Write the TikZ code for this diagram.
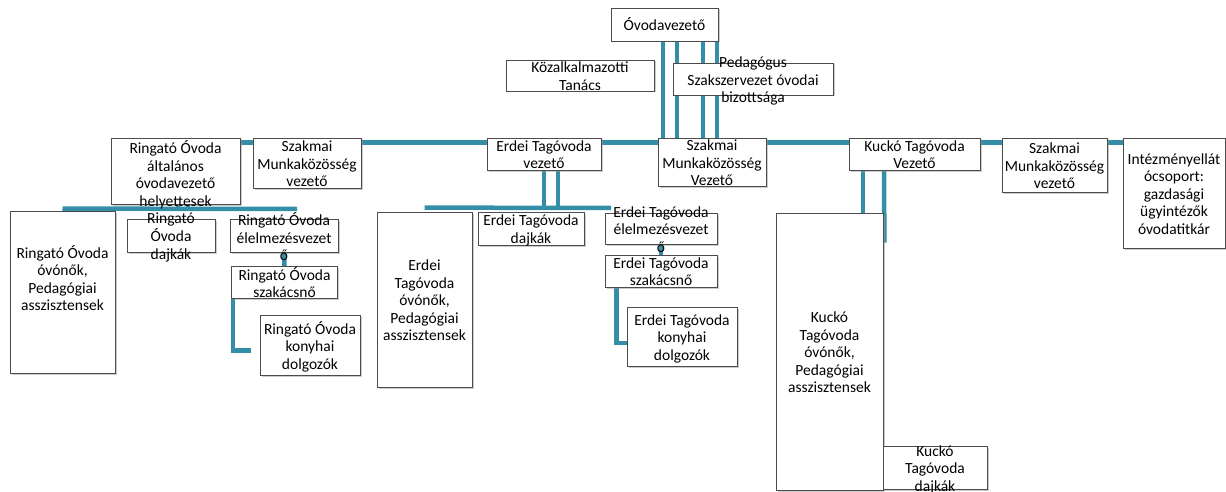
\documentclass[tikz,border=0pt]{standalone}
\usepackage{fontspec}
\setmainfont{Carlito}
\usepackage{tikz}
\usetikzlibrary{shadows,backgrounds}

\definecolor{orgteal}{RGB}{52,142,167}
\newcommand{\orgfont}{\fontsize{15.5}{17.5}\selectfont}
% lines of a box, smashed so the box keeps its own size
\newcommand{\lns}[2][-6.2pt]{\smash{\raisebox{#1}{\begin{tabular}{@{}c@{}}#2\end{tabular}}}}

\tikzset{
  box/.style={draw=black!70, line width=0.8pt, fill=white, inner sep=0pt,
    font=\orgfont, drop shadow={shadow xshift=1.5pt, shadow yshift=-1.5pt, fill=black!40, opacity=0.5}},
  link/.style={draw=orgteal, line width=4.5pt}
}

\begin{document}
\begin{tikzpicture}[x=1pt,y=-1pt]
\useasboundingbox (0,0) rectangle (1226,492);

% top
\node[box, minimum width=107pt, minimum height=33pt] (ovodavez) at (664.5,24.5) {\lns{Óvodavezető}};
\node[box, minimum width=148pt, minimum height=31pt] (kozalk) at (580,75.5) {\lns{Közalkalmazotti\\Tanács}};
\node[box, minimum width=160pt, minimum height=32pt] (pedszak) at (753,79) {\lns{Pedagógus\\Szakszervezet óvodai\\bizottsága}};

% second row
\node[box, minimum width=129pt, minimum height=66pt] (ringhely) at (175.5,171) {\lns[-8.7pt]{Ringató Óvoda\\általános\\óvodavezető\\helyettesek}};
\node[box, minimum width=108pt, minimum height=50pt] (szmkA) at (307,163) {\lns{Szakmai\\Munkaközösség\\vezető}};
\node[box, minimum width=114pt, minimum height=32pt] (erdeivez) at (544,154) {\lns{Erdei Tagóvoda\\vezető}};
\node[box, minimum width=108pt, minimum height=48pt] (szmkB) at (712,162) {\lns{Szakmai\\Munkaközösség\\Vezető}};
\node[box, minimum width=131pt, minimum height=32pt] (kuckovez) at (914.5,154) {\lns{Kuckó Tagóvoda\\Vezető}};
\node[box, minimum width=105pt, minimum height=54pt] (szmkC) at (1054.5,165) {\lns{Szakmai\\Munkaközösség\\vezető}};
\node[box, minimum width=102pt, minimum height=110pt] (intezmeny) at (1174,193) {\lns{Intézményellát\\ócsoport:\\gazdasági\\ügyintézők\\óvodatitkár}};

% Ringato
\node[box, minimum width=105pt, minimum height=162pt] (ringovon) at (62.5,292) {\lns[7.8pt]{Ringató Óvoda\\óvónők,\\Pedagógiai\\asszisztensek}};
\node[box, minimum width=88pt, minimum height=33pt] (ringdajka) at (171,235.5) {\lns{Ringató\\Óvoda\\dajkák}};
\node[box, minimum width=108pt, minimum height=33pt] (ringelelm) at (284,235.5) {\lns[-7.5pt]{Ringató Óvoda\\élelmezésvezet\\ő}};
\node[box, minimum width=106pt, minimum height=32pt] (ringszak) at (284.5,282.5) {\lns{Ringató Óvoda\\szakácsnő}};
\node[box, minimum width=100pt, minimum height=60pt] (ringkony) at (310,345.5) {\lns{Ringató Óvoda\\konyhai\\dolgozók}};

% Erdei
\node[box, minimum width=95pt, minimum height=175pt] (erdeiovon) at (424.5,299.5) {\lns{Erdei\\Tagóvoda\\óvónők,\\Pedagógiai\\asszisztensek}};
\node[box, minimum width=106pt, minimum height=33pt] (erdeidajka) at (531,228.5) {\lns{Erdei Tagóvoda\\dajkák}};
\node[box, minimum width=112pt, minimum height=31pt] (erdeielelm) at (661,228.5) {\lns{Erdei Tagóvoda\\élelmezésvezet\\ő}};
\node[box, minimum width=112pt, minimum height=32pt] (erdeiszak) at (661,271) {\lns{Erdei Tagóvoda\\szakácsnő}};
\node[box, minimum width=110pt, minimum height=59pt] (erdeikony) at (682,336.5) {\lns{Erdei Tagóvoda\\konyhai\\dolgozók}};

% Kucko
\node[box, minimum width=107pt, minimum height=277pt] (kuckoovon) at (829.5,351.5) {\lns{Kuckó\\Tagóvoda\\óvónők,\\Pedagógiai\\asszisztensek}};
\node[box, minimum width=104pt, minimum height=43pt] (kuckodajka) at (935,467.5) {\lns{Kuckó\\Tagóvoda\\dajkák}};

\coordinate (ringbus) at (297,209);
\coordinate (erdeibus) at (611,208);

\begin{scope}[on background layer]
\draw[link] ([yshift=-5pt]ringhely.north east) -- ([yshift=-5pt]intezmeny.north east);
\foreach \dx in {-1.5,12.5,38.5,52.5}
  \draw[link] ([xshift=\dx pt]ovodavez.south) -- ([xshift=\dx pt]ovodavez.south |- szmkB.north);

\draw[link] ([yshift=2pt]ringovon.north) -- (ringbus);
\foreach \dx in {2.5,12.5}
  \draw[link] ([xshift=\dx pt]ringhely.south) -- ([xshift=\dx pt]ringhely.south |- ringbus);
\draw[link] (ringelelm.south) -- (ringszak.north);
\draw[link] ([xshift=2pt]ringszak.south west) |- ([shift={(-9pt,-5pt)}]ringkony.west);

\draw[link] ([yshift=4pt]erdeiovon.north) -- (erdeibus);
\foreach \dx in {0,14}
  \draw[link] ([xshift=\dx pt]erdeivez.south) -- ([xshift=\dx pt]erdeivez.south |- erdeibus);
\draw[link] (erdeielelm.south) -- (erdeiszak.north);
\draw[link] ([xshift=12pt]erdeiszak.south west) |- ([yshift=-6.5pt]erdeikony.west);

\draw[link] ([xshift=-51.5pt]kuckovez.south) -- ([xshift=-51.5pt]kuckovez.south |- kuckoovon.north);
\draw[link] ([xshift=-30.5pt]kuckovez.south) -- ([shift={(1pt,-30pt)}]kuckoovon.north east);
\end{scope}
\end{tikzpicture}
\end{document}
